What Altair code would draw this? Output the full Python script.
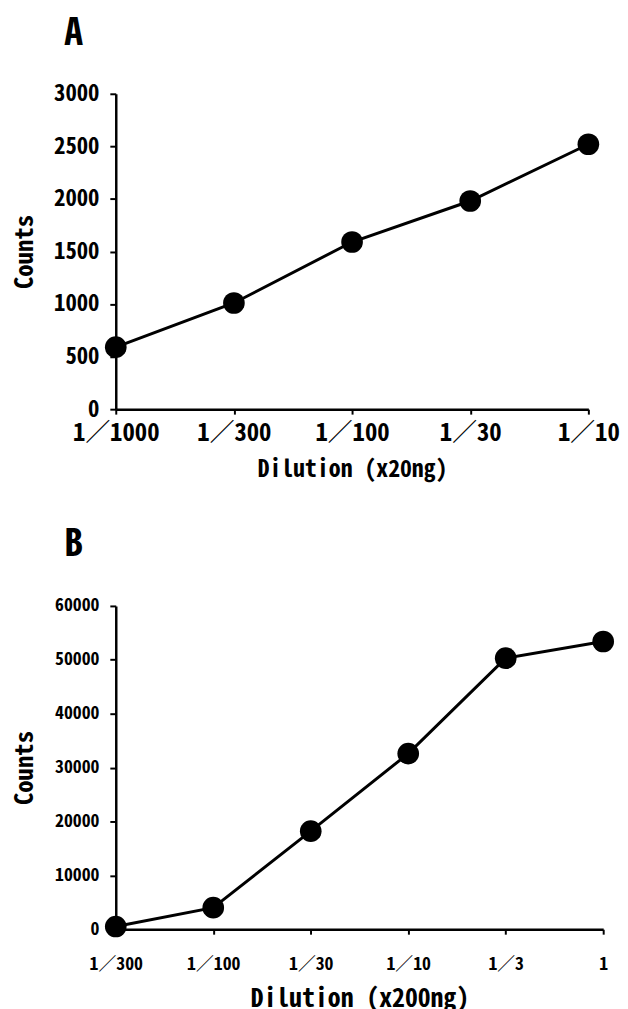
import altair as alt
import pandas as pd

# Panel A data
a_labels = ["1／1000", "1／300", "1／100", "1／30", "1／10"]
a_counts = [590, 1010, 1590, 1980, 2520]
a_yticks = [0, 500, 1000, 1500, 2000, 2500, 3000]

# Panel B data
b_labels = ["1／300", "1／100", "1／30", "1／10", "1／3", "1"]
b_counts = [500, 4000, 18200, 32600, 50300, 53400]
b_yticks = [0, 10000, 20000, 30000, 40000, 50000, 60000]

FONT = "Noto Sans Mono CJK JP, Noto Sans CJK JP, DejaVu Sans Mono, sans-serif"


def panel(labels, counts, yticks, letter, xtitle, w, h,
          ylab, xlab, xts, title_offset, xlabpad, xtitlepad):
    df = pd.DataFrame({"dilution": labels, "counts": counts})
    x = alt.X(
        "dilution:O",
        sort=labels,
        scale=alt.Scale(type="point", padding=0),
        axis=alt.Axis(
            title=xtitle, labelAngle=0, labelOverlap=False,
            labelFont=FONT, labelFontSize=xlab, labelFontWeight="bold",
            titleFont=FONT, titleFontSize=xts, titleFontWeight="bold",
            tickSize=5, labelPadding=xlabpad, titlePadding=xtitlepad,
        ),
    )
    y = alt.Y(
        "counts:Q",
        scale=alt.Scale(domain=[yticks[0], yticks[-1]], nice=False),
        axis=alt.Axis(
            title="Counts", values=yticks, format="d", labelOverlap=False,
            labelFont=FONT, labelFontSize=ylab, labelFontWeight="bold",
            titleFont=FONT, titleFontSize=25, titleFontWeight="bold",
            titleX=-92, titleBaseline="middle",
            tickSize=6, labelPadding=11,
        ),
    )
    base = alt.Chart(df).encode(x=x, y=y)
    line = base.mark_line(color="black", strokeWidth=3)
    pts = base.mark_circle(color="black", opacity=1, size=480)
    return alt.layer(line, pts).properties(
        width=w, height=h,
        title=alt.TitleParams(
            letter, anchor="start", frame="group", dx=-52,
            font=FONT, fontSize=38, fontWeight="bold",
            offset=title_offset, color="black",
        ),
    )


pa = panel(a_labels, a_counts, a_yticks, "A", "Dilution (x20ng)", 478, 319,
           23, 25, 24, 30, 7, 12)
pb = panel(b_labels, b_counts, b_yticks, "B", "Dilution (x200ng)", 493, 327,
           18, 18, 26, 34, 22, 12)

chart = alt.vconcat(pa, pb, spacing=45).properties(
    padding={"left": 5, "top": 2, "right": 0, "bottom": 0}
).configure_view(stroke=None).configure_axis(
    domainColor="black", domainWidth=2.5, tickColor="black", tickWidth=2,
    labelColor="black", titleColor="black", grid=False,
)

chart.save("out.html", embed_options={"renderer": "svg", "actions": False})
